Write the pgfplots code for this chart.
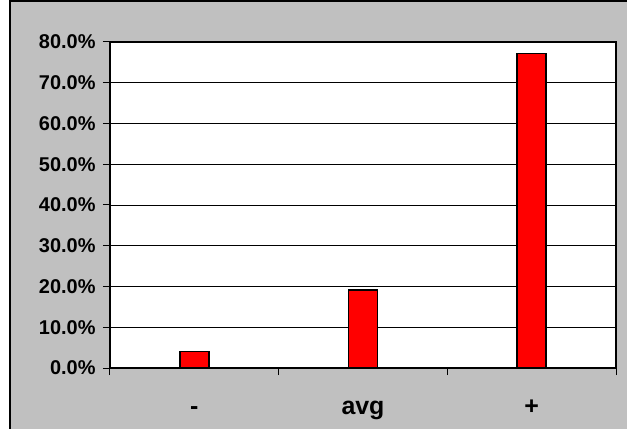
\documentclass[border=0pt]{standalone}
\usepackage{fontspec}
\setmainfont{Liberation Sans}
\usepackage{pgfplots}
\pgfplotsset{compat=1.18}
\definecolor{chartgray}{RGB}{192,192,192}
\begin{document}
\begin{tikzpicture}
\useasboundingbox (-110bp,-61bp) rectangle (517bp,368bp);
\fill[white] (-110bp,-61bp) rectangle (517bp,368bp);
\fill[chartgray] (-100bp,-61bp) rectangle (517bp,367bp);
\draw[line width=1.5bp] (-100bp,-61bp) -- (-100bp,367bp) -- (517bp,367bp);
\begin{axis}[
    at={(0,0)}, anchor=south west,
    scale only axis, width=506bp, height=326bp,
    xmin=-0.5, xmax=2.5, ymin=0, ymax=80,
    ybar, bar width=29bp,
    axis background/.style={fill=white},
    axis line style={line width=1.5bp},
    ymajorgrids, grid style={black, line width=0.8bp},
    tick align=outside, major tick length=7bp,
    tick style={black, line width=1bp},
    xtick pos=bottom, ytick pos=left,
    ytick={0,10,...,80},
    yticklabel={\pgfmathprintnumber{\tick}\%},
    /pgf/number format/.cd, fixed, fixed zerofill, precision=1, assume math mode=true,
    /pgfplots/.cd,
    xtick={-0.5,0.5,1.5,2.5}, xticklabels={,,,},
    extra x ticks={0,1,2}, extra x tick labels={-,avg,+},
    extra x tick style={major tick length=0pt,
      xticklabel style={anchor=base, yshift=-46bp, font=\fontsize{25}{28}\selectfont\bfseries}},
    yticklabel style={xshift=-4bp, font=\fontsize{20}{24}\selectfont\bfseries},
  ]
  \addplot[fill=red, draw=black, line width=1.5bp] coordinates {
    (0,4.0) (1,19.1) (2,77.2)
  };
\end{axis}
\end{tikzpicture}
\end{document}
